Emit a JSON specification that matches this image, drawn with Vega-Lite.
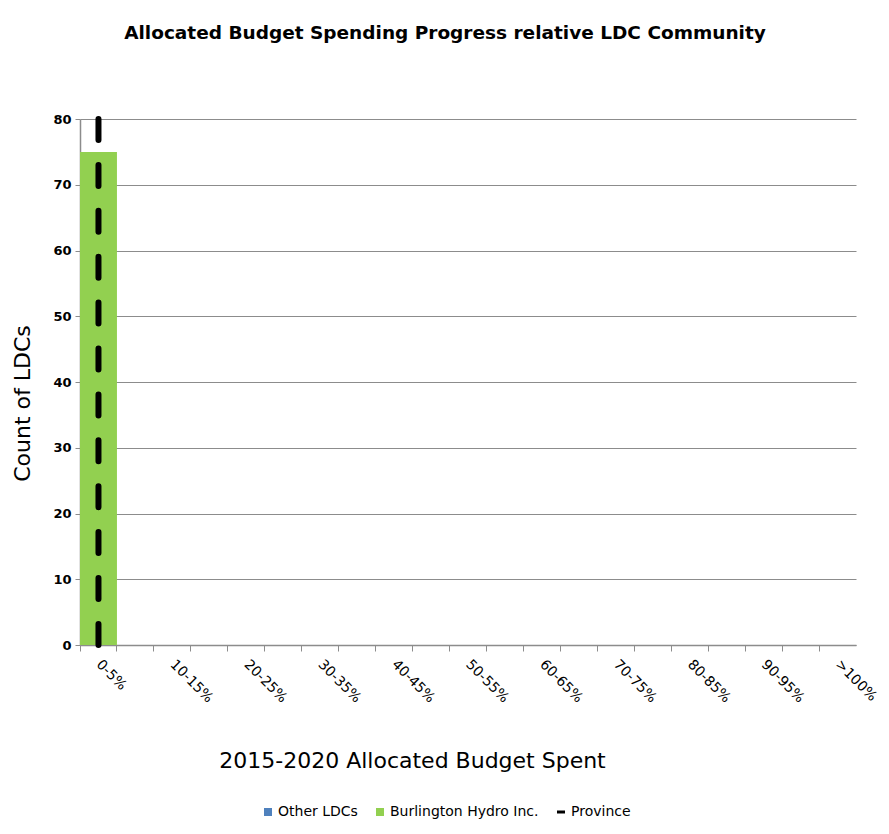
{
  "$schema": "https://vega.github.io/schema/vega-lite/v6.json",
  "width": 776,
  "height": 526,
  "autosize": {"type": "none"},
  "padding": {"left": 80, "top": 119, "right": 33, "bottom": 189},
  "background": "white",
  "title": {
    "text": "Allocated Budget Spending Progress relative LDC Community",
    "font": "DejaVu Sans",
    "fontSize": 18.5,
    "fontWeight": "bold",
    "color": "#000000",
    "anchor": "middle",
    "dx": -23,
    "offset": 71
  },
  "datasets": {
    "bars": [
      {"bin": "0-5%", "series": "Burlington Hydro Inc.", "count": 75},
      {"bin": "5-10%", "series": "Other LDCs", "count": 0},
      {"bin": "10-15%", "series": "Other LDCs", "count": 0},
      {"bin": "15-20%", "series": "Other LDCs", "count": 0},
      {"bin": "20-25%", "series": "Other LDCs", "count": 0},
      {"bin": "25-30%", "series": "Other LDCs", "count": 0},
      {"bin": "30-35%", "series": "Other LDCs", "count": 0},
      {"bin": "35-40%", "series": "Other LDCs", "count": 0},
      {"bin": "40-45%", "series": "Other LDCs", "count": 0},
      {"bin": "45-50%", "series": "Other LDCs", "count": 0},
      {"bin": "50-55%", "series": "Other LDCs", "count": 0},
      {"bin": "55-60%", "series": "Other LDCs", "count": 0},
      {"bin": "60-65%", "series": "Other LDCs", "count": 0},
      {"bin": "65-70%", "series": "Other LDCs", "count": 0},
      {"bin": "70-75%", "series": "Other LDCs", "count": 0},
      {"bin": "75-80%", "series": "Other LDCs", "count": 0},
      {"bin": "80-85%", "series": "Other LDCs", "count": 0},
      {"bin": "85-90%", "series": "Other LDCs", "count": 0},
      {"bin": "90-95%", "series": "Other LDCs", "count": 0},
      {"bin": "95-100%", "series": "Other LDCs", "count": 0},
      {"bin": ">100%", "series": "Other LDCs", "count": 0}
    ],
    "province": [
      {"bin": "0-5%", "series": "Province", "low": 0, "high": 80}
    ]
  },
  "config": {
    "view": {"stroke": null},
    "axis": {
      "labelFont": "DejaVu Sans",
      "titleFont": "DejaVu Sans",
      "labelColor": "#000000",
      "titleColor": "#000000",
      "domainColor": "#8c8c8c",
      "tickColor": "#8c8c8c",
      "gridColor": "#8c8c8c"
    },
    "legend": {"labelFont": "DejaVu Sans", "labelColor": "#000000"}
  },
  "layer": [
    {
      "data": {"name": "bars"},
      "mark": {"type": "bar", "stroke": null},
      "encoding": {
        "x": {
          "field": "bin",
          "type": "nominal",
          "sort": null,
          "scale": {
            "domain": ["0-5%","5-10%","10-15%","15-20%","20-25%","25-30%","30-35%","35-40%","40-45%","45-50%","50-55%","55-60%","60-65%","65-70%","70-75%","75-80%","80-85%","85-90%","90-95%","95-100%",">100%"],
            "paddingInner": 0,
            "paddingOuter": 0
          },
          "axis": {
            "title": "2015-2020 Allocated Budget Spent",
            "titleFontSize": 22,
            "titleFontWeight": "normal",
            "titleX": 332,
            "titleY": 115,
            "titleBaseline": "middle",
            "titleAnchor": null,
            "titleAlign": "center",
            "bandPosition": 0,
            "labelOffset": 5,
            "labelAngle": 45,
            "labelAlign": "left",
            "labelBaseline": "top",
            "labelFontSize": 14,
            "labelPadding": 6,
            "labelExpr": "indexof(['0-5%','10-15%','20-25%','30-35%','40-45%','50-55%','60-65%','70-75%','80-85%','90-95%','>100%'], datum.value) >= 0 ? datum.value : ''",
            "tickSize": 6,
            "domainWidth": 1.5,
            "grid": false
          }
        },
        "y": {
          "field": "count",
          "type": "quantitative",
          "stack": "zero",
          "scale": {"domain": [0, 80], "nice": false},
          "axis": {
            "title": "Count of LDCs",
            "titleFontSize": 22,
            "titleFontWeight": "normal",
            "titleX": -58,
            "titleY": 284,
            "titleBaseline": "middle",
            "titleAlign": "center",
            "titleAnchor": null,
            "values": [0,10,20,30,40,50,60,70,80],
            "labelFontSize": 13,
            "labelFontWeight": "bold",
            "labelPadding": 4,
            "tickSize": 5,
            "domainWidth": 1.5,
            "grid": true,
            "gridWidth": 1
          }
        },
        "color": {
          "field": "series",
          "type": "nominal",
          "scale": {
            "domain": ["Other LDCs", "Burlington Hydro Inc."],
            "range": ["#4f81bd", "#92d050"]
          },
          "legend": {
            "title": null,
            "orient": "none",
            "direction": "horizontal",
            "legendX": 181,
            "legendY": 686,
            "labelFontSize": 14,
            "symbolSize": 64,
            "symbolType": "square",
            "columnPadding": 15,
            "labelOffset": 3
          }
        }
      }
    },
    {
      "data": {"name": "province"},
      "mark": {"type": "rule", "strokeWidth": 6, "strokeCap": "round", "color": "#000000"},
      "encoding": {
        "x": {"field": "bin", "type": "nominal"},
        "y": {"field": "high", "type": "quantitative"},
        "y2": {"field": "low"},
        "strokeDash": {
          "field": "series",
          "type": "nominal",
          "scale": {"domain": ["Province"], "range": [[21, 24.9]]},
          "legend": {
            "title": null,
            "orient": "none",
            "legendX": 474,
            "legendY": 686,
            "labelFontSize": 14,
            "symbolType": "stroke",
            "symbolSize": 64,
            "symbolStrokeWidth": 3,
            "symbolStrokeColor": "#000000",
            "labelOffset": 3
          }
        }
      }
    }
  ]
}
